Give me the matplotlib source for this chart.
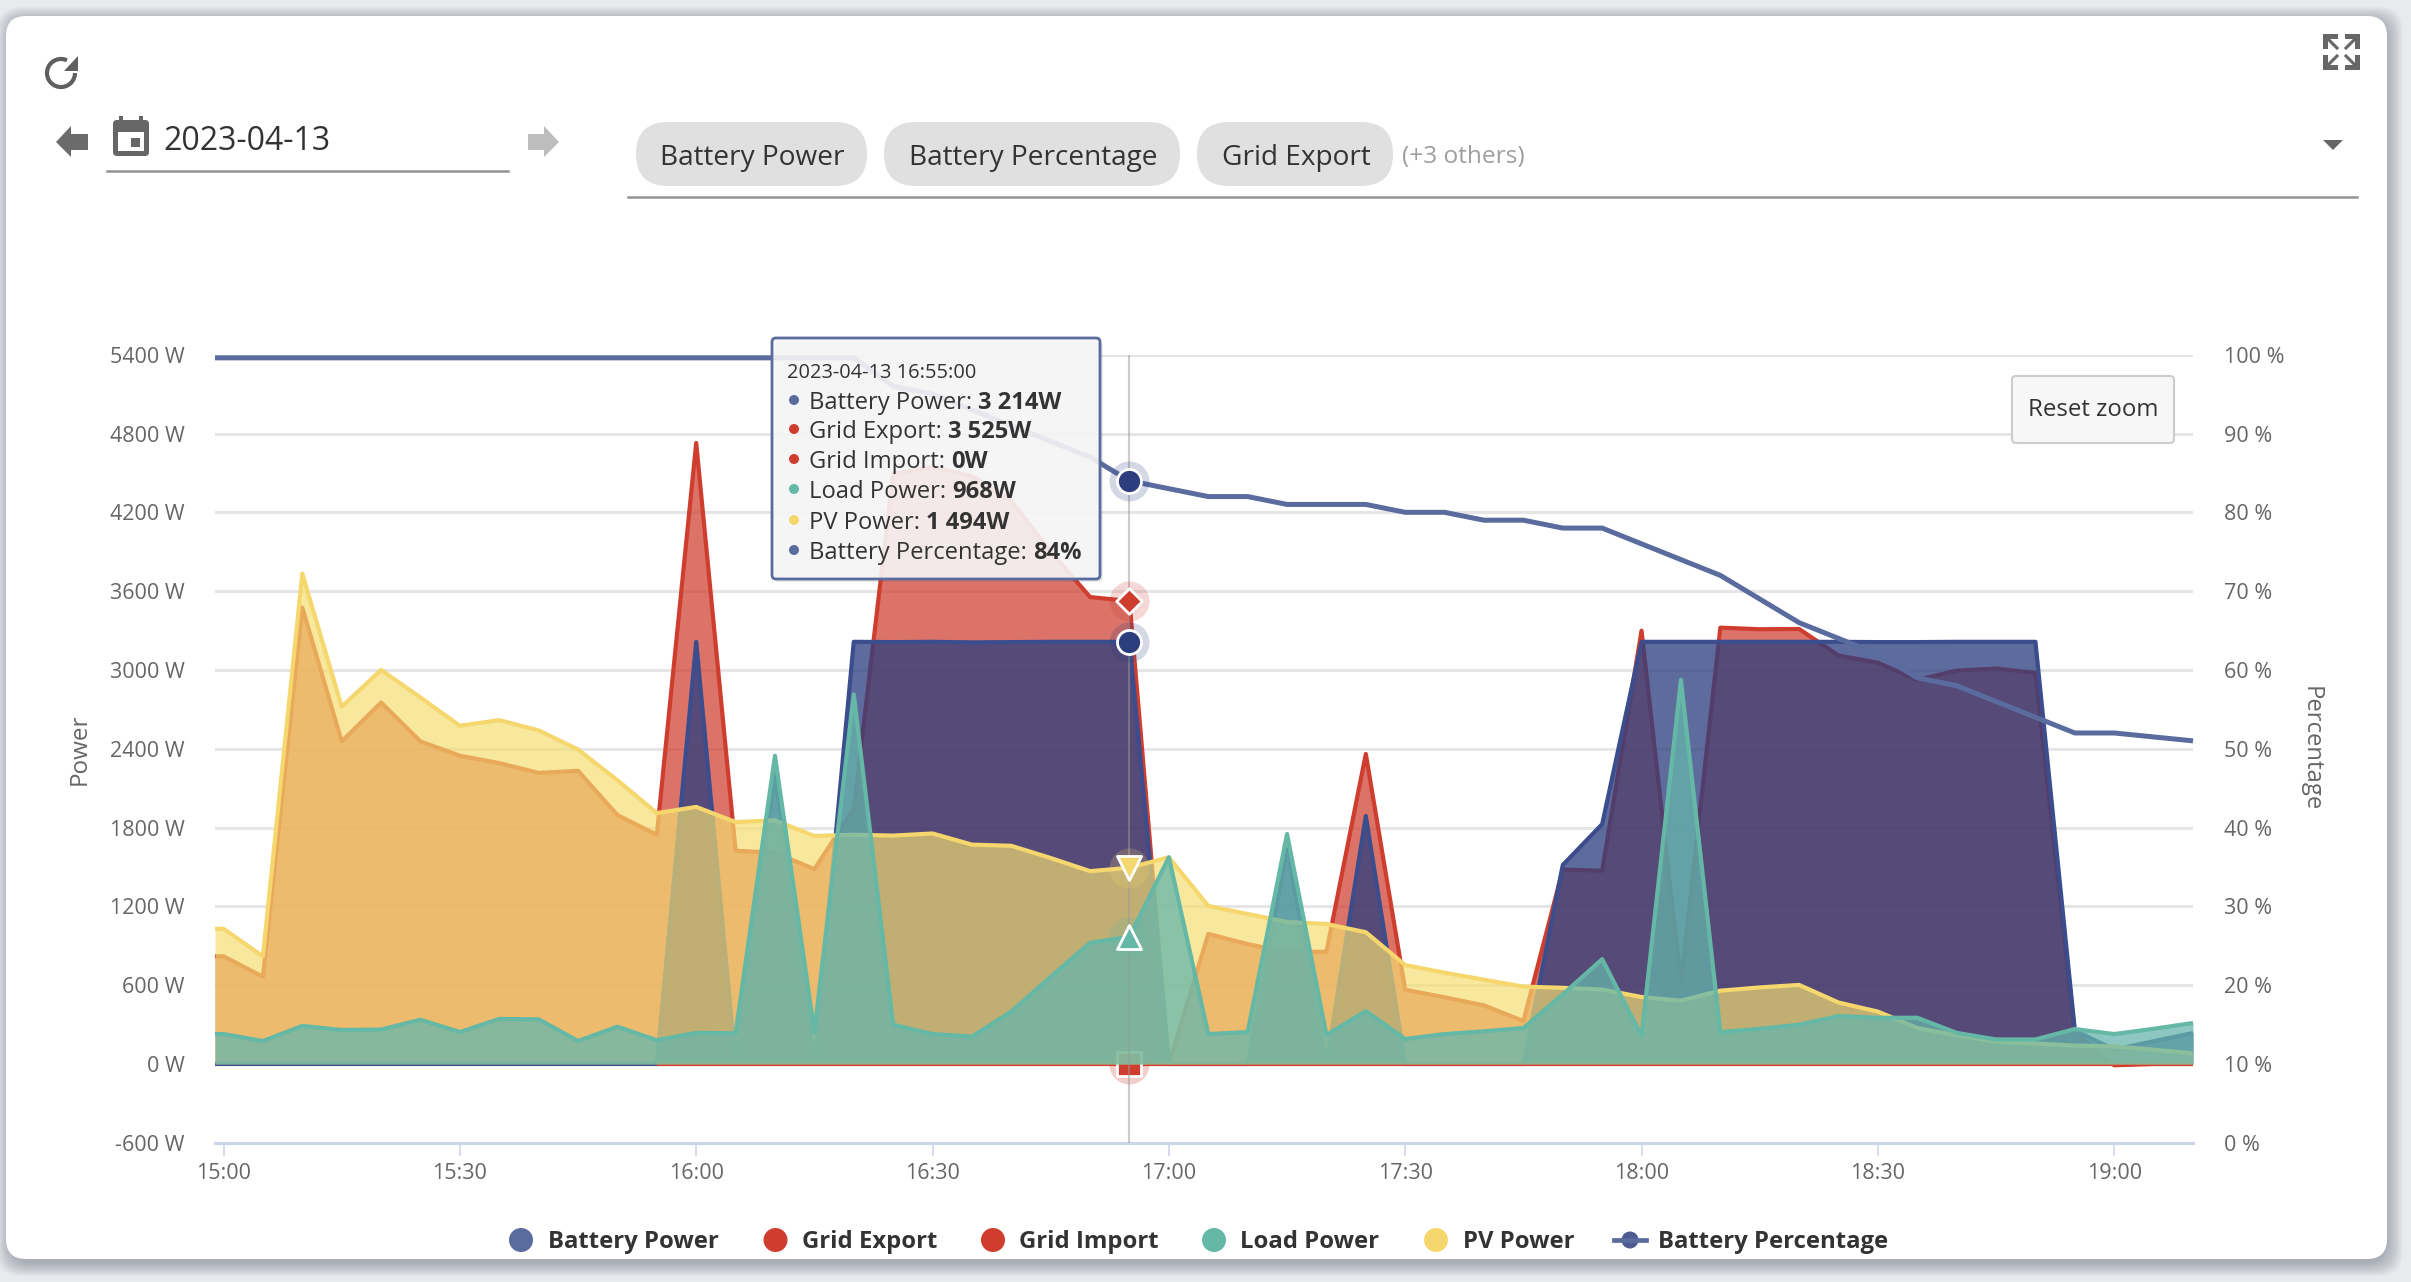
import numpy as np
import pandas as pd
import matplotlib
matplotlib.use('Agg')
import matplotlib.pyplot as plt
from matplotlib.patches import FancyBboxPatch, Polygon, Rectangle, Arc, Circle

plt.rcParams['font.family'] = ['Open Sans', 'DejaVu Sans']

times = pd.date_range('2023-04-13 15:00', '2023-04-13 19:10', freq='5min')
hover_time = pd.Timestamp('2023-04-13 16:55')
left_time = pd.Timestamp('2023-04-13 14:58:55')
right_time = pd.Timestamp('2023-04-13 19:10')

grid_export = [820, 664, 3475, 2456, 2752, 2456, 2347, 2291, 2216, 2232, 1895, 1745,
               4728, 1624, 1608, 1484, 1942, 4492, 4545, 4477, 4286, 3900, 3555, 3525,
               0, 990, 913, 851, 855, 2360, 565, 508, 446, 327, 1480, 1471,
               3299, 620, 3322, 3310, 3312, 3110, 3055, 2924, 2995, 3011, 2977, 240,
               -10, 0, 0]
battery_power = [0, 0, 0, 0, 0, 0, 0, 0, 0, 0, 0, 0,
                 3214, 0, 2208, 0, 3214, 3212, 3214, 3210, 3212, 3214, 3214, 3214,
                 0, 0, 0, 1636, 0, 1888, 0, 0, 0, 0, 1515, 1826,
                 3214, 3214, 3214, 3214, 3214, 3214, 3212, 3212, 3214, 3214, 3214, 255,
                 110, 173, 236]
grid_import = [np.nan] * 11 + [0] * 40
pv_power = [1029, 820, 3733, 2720, 3000, 2790, 2575, 2618, 2540, 2394, 2160, 1910,
            1957, 1842, 1855, 1736, 1745, 1739, 1755, 1670, 1661, 1568, 1468, 1494,
            1574, 1203, 1142, 1081, 1066, 1003, 753, 695, 642, 589, 580, 567,
            510, 482, 558, 583, 602, 468, 399, 274, 218, 171, 156, 140,
            134, 109, 81]
load_power = [228, 175, 290, 259, 262, 337, 243, 343, 340, 175, 284, 181,
              237, 234, 2347, 243, 2815, 299, 228, 209, 399, 664, 923, 968,
              1574, 228, 243, 1751, 220, 403, 190, 228, 249, 274, 530, 798,
              215, 2924, 243, 268, 299, 365, 352, 352, 237, 187, 187, 266,
              228, 268, 312]
battery_pct = [99.6, 99.6, 99.6, 99.6, 99.6, 99.6, 99.6, 99.6, 99.6, 99.6, 99.6, 99.6,
               99.6, 99.6, 99.6, 99.6, 99.6, 96, 95, 93, 91, 89, 87, 84,
               83, 82, 82, 81, 81, 81, 80, 80, 79, 79, 78, 78,
               76, 74, 72, 69, 66, 64, 62, 59, 58, 56, 54, 52,
               52, 51.5, 51]

power_ticks = [-600, 0, 600, 1200, 1800, 2400, 3000, 3600, 4200, 4800, 5400]
pct_ticks = [0, 10, 20, 30, 40, 50, 60, 70, 80, 90, 100]
x_ticks = pd.date_range('2023-04-13 15:00', '2023-04-13 19:00', freq='30min')
x_labels = ['15:00', '15:30', '16:00', '16:30', '17:00', '17:30', '18:00', '18:30', '19:00']

tooltip_rows = [('Battery Power:', '3 214W'), ('Grid Export:', '3 525W'), ('Grid Import:', '0W'),
                ('Load Power:', '968W'), ('PV Power:', '1 494W'), ('Battery Percentage:', '84%')]

BLUE = '#2c3e7e'
BLUE_LINE = '#3b4d8c'
BLUE_SOFT = '#5a6b9e'
RED = '#cf3d2e'
TEAL = '#66b8a6'
TEAL_FILL = '#66b6ac'
YELLOW = '#f5d76e'
YELLOW_FILL = '#f5de70'
TEXT = '#666666'

W, H = 2411, 1282
fig = plt.figure(figsize=(W / 100, H / 100), dpi=100, facecolor='#e8eaee')


def px_axes(zorder):
    a = fig.add_axes([0, 0, 1, 1], zorder=zorder)
    a.set_xlim(0, W)
    a.set_ylim(H, 0)
    a.axis('off')
    a.patch.set_alpha(0)
    return a


bg = px_axes(0)
top = px_axes(5)

# card and its shadow
for i in range(14):
    grow = 26 - i * 2
    bg.add_patch(FancyBboxPatch((10 - grow * 0.5, 16 + 4 - grow * 0.5), 2377 + grow * 1.1, 1243 + grow * 1.0,
                                boxstyle='round,pad=0,rounding_size=24', fc='#5a6070', ec='none', alpha=0.035))
bg.add_patch(FancyBboxPatch((6, 16), 2381, 1243, boxstyle='round,pad=0,rounding_size=20', fc='white', ec='none'))

# refresh button
bg.add_patch(Arc((61, 73), 28, 28, theta1=0, theta2=295, color='#5f5f5f', lw=3))
bg.add_patch(Polygon([[78, 56], [78, 71], [64, 71]], fc='#5f5f5f'))

# date picker
bg.add_patch(Polygon([[56, 142], [71, 126], [71, 134], [88, 134], [88, 150], [71, 150], [71, 157]], fc='#6b6b6b'))
bg.add_patch(Polygon([[559, 142], [544, 126], [544, 134], [528, 134], [528, 150], [544, 150], [544, 157]], fc='#bdbdbd'))
bg.add_patch(FancyBboxPatch((113, 120), 36, 36, boxstyle='round,pad=0,rounding_size=4', fc='#666666', ec='none'))
bg.add_patch(Rectangle((118, 132), 26, 19, fc='white'))
bg.add_patch(Rectangle((131, 138), 9, 9, fc='#666666'))
bg.add_patch(Rectangle((119, 116), 4, 8, fc='#666666'))
bg.add_patch(Rectangle((139, 116), 4, 8, fc='#666666'))
bg.text(163, 142, '2023-04-13', fontsize=23, color='#333333', va='center')
bg.plot([107, 508], [170.5, 170.5], color='#949494', lw=1.8)

# selected series
for x0, x1, label in [(636, 867, 'Battery Power'), (884, 1180, 'Battery Percentage'), (1197, 1393, 'Grid Export')]:
    bg.add_patch(FancyBboxPatch((x0, 122), x1 - x0, 64, boxstyle='round,pad=0,rounding_size=32', fc='#e0e0e0', ec='none'))
    bg.text((x0 + x1) / 2 + 1, 158, label, fontsize=20.2, color='#333333', ha='center', va='center')
bg.text(1402, 157, '(+3 others)', fontsize=17.6, color='#9e9e9e', va='center')
bg.plot([628, 2357], [196.7, 196.7], color='#949494', lw=1.8)
bg.add_patch(Polygon([[2323, 140], [2343, 140], [2333, 150]], fc='#666666'))

# fullscreen icon
for sx, sy, cx, cy in [(1, 1, 2323, 34), (-1, 1, 2360, 34), (1, -1, 2323, 70), (-1, -1, 2360, 70)]:
    bg.add_patch(Polygon([[cx, cy], [cx + 15 * sx, cy], [cx + 15 * sx, cy + 5 * sy], [cx + 5 * sx, cy + 5 * sy],
                          [cx + 5 * sx, cy + 15 * sy], [cx, cy + 15 * sy]], fc='#666666'))
    bg.plot([cx + 6 * sx, cx + 14 * sx], [cy + 6 * sy, cy + 14 * sy], color='#666666', lw=2.2)

# chart
ax = fig.add_axes([215 / W, 1 - 1142.8 / H, (2193 - 215) / W, (1142.8 - 354.7) / H], zorder=1)
ax.patch.set_alpha(0)
ax.set_xlim(left_time, right_time)
ax.set_ylim(-600, 5400)
for s in ['top', 'left', 'right']:
    ax.spines[s].set_visible(False)
ax.spines['bottom'].set_color('#ccd6eb')
ax.spines['bottom'].set_linewidth(2.2)
ax.set_yticks(power_ticks)
ax.set_yticklabels(['%d W' % v for v in power_ticks], fontsize=15.5, color=TEXT)
ax.set_xticks(x_ticks)
ax.set_xticklabels(x_labels, fontsize=15.5, color=TEXT)
ax.tick_params(axis='y', length=0, pad=22)
ax.tick_params(axis='x', length=9.5, width=1.2, color='#ccd6eb', pad=5)
ax.grid(axis='y', color='#e6e6e6', lw=2.2, zorder=0.5)
ax.set_axisbelow(True)

edge_times = times.insert(0, left_time)


def area(values, line_color, fill_color, z, alpha):
    v = [values[0]] + list(values)
    ax.fill_between(edge_times, 0, v, color=fill_color, alpha=alpha, lw=0, zorder=z)
    ax.plot(edge_times, v, color=line_color, lw=3, zorder=z + 0.5, solid_joinstyle='round', solid_capstyle='butt')


area(grid_export, RED, RED, 1, 0.72)
area(battery_power, BLUE_LINE, BLUE, 2, 0.76)
area(grid_import, RED, RED, 3, 0.72)

# import marker sits under the pv and load areas
ax.scatter([hover_time], [0], s=830, color=RED, alpha=0.25, lw=0, zorder=3.6, clip_on=False)
ax.scatter([hover_time], [0], s=300, marker='s', color=RED, edgecolors='white', lw=2, zorder=3.7, clip_on=False)

area(pv_power, YELLOW, YELLOW_FILL, 4, 0.68)
area(load_power, TEAL, TEAL_FILL, 5, 0.75)

ax.axvline(hover_time, color='#9a9a9a', lw=1.5, alpha=0.5, zorder=6)


def hover_mark(value, color, marker, size):
    ax.scatter([hover_time], [value], s=830, color=color, alpha=0.2, lw=0, zorder=7, clip_on=False)
    ax.scatter([hover_time], [value], s=size, marker=marker, color=color, edgecolors='white', lw=2, zorder=7.5, clip_on=False)


hover_mark(battery_power[23], BLUE, 'o', 300)
hover_mark(grid_export[23], RED, 'D', 170)
hover_mark(pv_power[23], YELLOW, 'v', 300)
hover_mark(load_power[23], TEAL, '^', 300)

ax_pct = ax.twinx()
ax_pct.set_zorder(2)
ax_pct.patch.set_alpha(0)
ax_pct.set_ylim(0, 100)
ax_pct.set_yticks(pct_ticks)
ax_pct.set_yticklabels(['%d %%' % v for v in pct_ticks], fontsize=15.5, color=TEXT)
ax_pct.tick_params(axis='y', length=0, pad=22)
for s in ['top', 'left', 'right', 'bottom']:
    ax_pct.spines[s].set_visible(False)
ax_pct.plot(edge_times, [battery_pct[0]] + battery_pct, color=BLUE_SOFT, lw=3.6, zorder=3,
            solid_joinstyle='round', solid_capstyle='butt', clip_on=False)
ax_pct.scatter([hover_time], [battery_pct[23]], s=830, color=BLUE, alpha=0.2, lw=0, zorder=4, clip_on=False)
ax_pct.scatter([hover_time], [battery_pct[23]], s=300, color=BLUE, edgecolors='white', lw=2, zorder=5, clip_on=False)

top.text(80, 749, 'Power', rotation=90, fontsize=17.5, color=TEXT, ha='center', va='center')
top.text(2311, 749, 'Percentage', rotation=270, fontsize=17.2, color=TEXT, ha='center', va='center')

# reset zoom button
top.add_patch(FancyBboxPatch((2012, 376), 162, 67, boxstyle='round,pad=0,rounding_size=4', fc='#f7f7f7', ec='#cccccc', lw=1.5))
top.text(2093, 410, 'Reset zoom', fontsize=17.3, color='#333333', ha='center', va='center')

# tooltip
top.add_patch(FancyBboxPatch((775, 342), 328, 240, boxstyle='round,pad=0,rounding_size=4', fc='#555555', ec='none', alpha=0.12))
top.add_patch(FancyBboxPatch((772, 338), 328, 241, boxstyle='round,pad=0,rounding_size=4',
                             fc=(0.97, 0.97, 0.97, 0.9), ec=BLUE_SOFT, lw=2))
top.text(787, 372.5, '2023-04-13 16:55:00', fontsize=14.4, color='#333333', va='center')
renderer = fig.canvas.get_renderer()
row_colors = [BLUE_SOFT, RED, RED, TEAL, YELLOW, BLUE_SOFT]
row_y = [400, 429, 459, 489, 520, 550]
for (name, val), c, y in zip(tooltip_rows, row_colors, row_y):
    top.add_patch(Circle((794, y), 5, fc=c, ec='none'))
    t = top.text(809, y + 3, name, fontsize=17.1, color='#333333', va='center')
    x_end = t.get_window_extent(renderer).x1
    top.text(x_end + 6, y + 3, val, fontsize=17.1, color='#333333', va='center', weight='bold')

# legend
legend_items = [(521, 548, 'Battery Power', BLUE_SOFT), (775.5, 802, 'Grid Export', RED),
                (993, 1019, 'Grid Import', RED), (1214, 1240, 'Load Power', TEAL),
                (1436, 1462.6, 'PV Power', YELLOW)]
for mx, tx, label, c in legend_items:
    top.add_patch(Circle((mx, 1240), 12, fc=c, ec='none'))
    top.text(tx, 1242, label, fontsize=17.2, color='#333333', weight='bold', va='center')
top.plot([1614, 1646], [1240, 1240], color=BLUE_SOFT, lw=3.4)
top.add_patch(Circle((1630, 1240), 8.5, fc=BLUE, ec='none', alpha=0.85))
top.text(1658, 1242, 'Battery Percentage', fontsize=17.2, color='#333333', weight='bold', va='center')

fig.savefig('out.png', dpi=100, facecolor=fig.get_facecolor())
